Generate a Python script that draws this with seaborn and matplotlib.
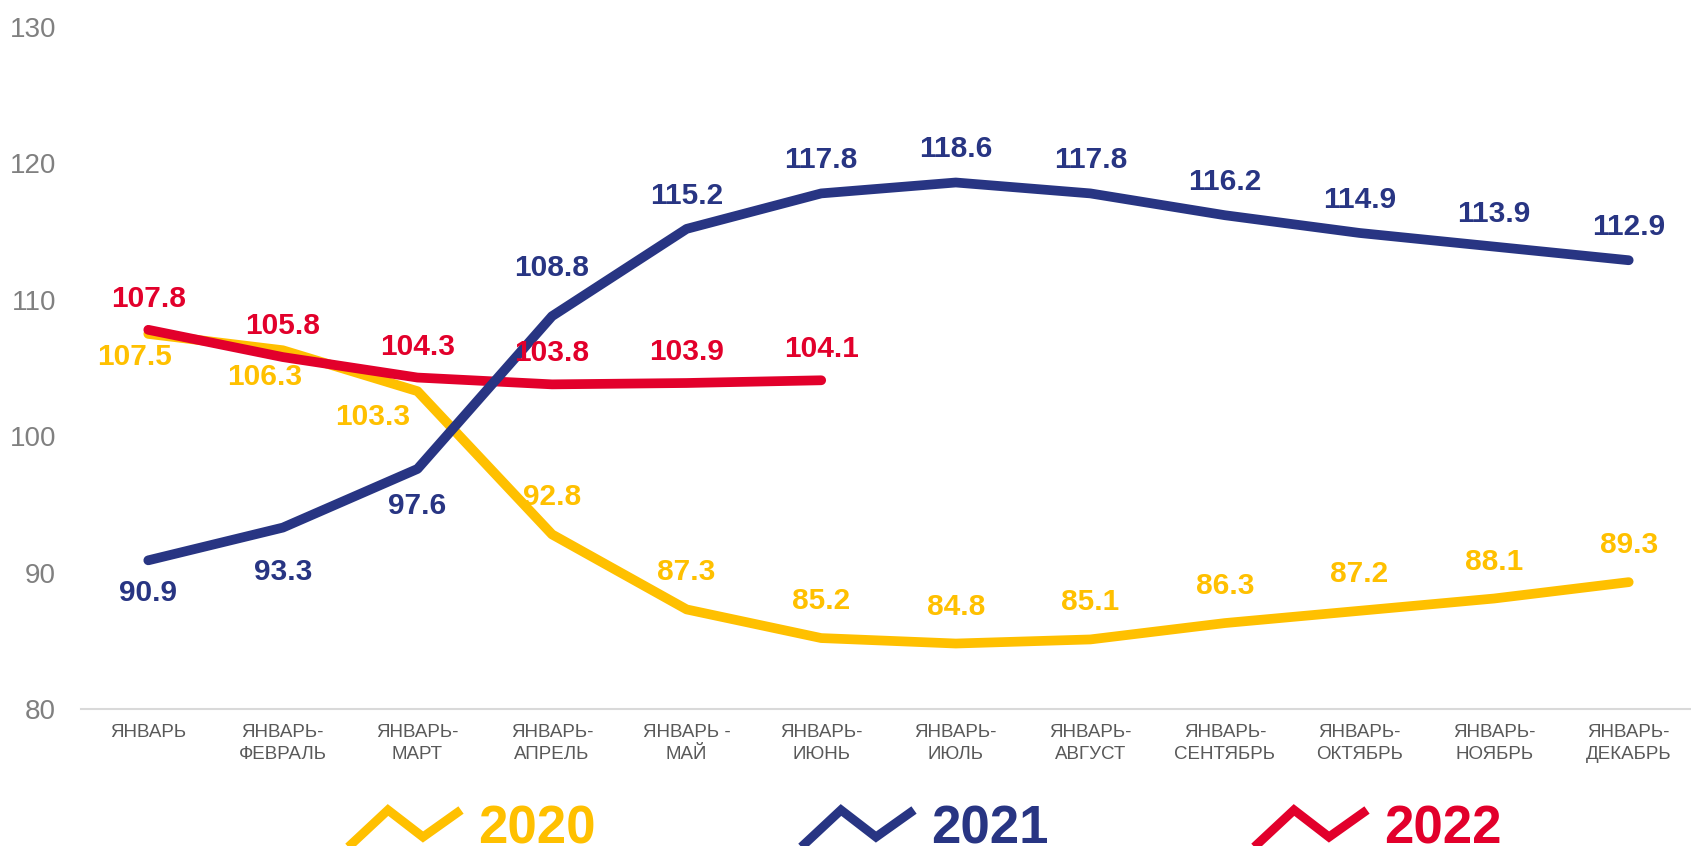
import matplotlib
matplotlib.use("Agg")
import matplotlib.pyplot as plt
import seaborn as sns
import pandas as pd
from matplotlib.lines import Line2D

# categories (cumulative periods) and values per year
periods = ["ЯНВАРЬ", "ЯНВАРЬ-\nФЕВРАЛЬ", "ЯНВАРЬ-\nМАРТ", "ЯНВАРЬ-\nАПРЕЛЬ", "ЯНВАРЬ -\nМАЙ",
           "ЯНВАРЬ-\nИЮНЬ", "ЯНВАРЬ-\nИЮЛЬ", "ЯНВАРЬ-\nАВГУСТ", "ЯНВАРЬ-\nСЕНТЯБРЬ",
           "ЯНВАРЬ-\nОКТЯБРЬ", "ЯНВАРЬ-\nНОЯБРЬ", "ЯНВАРЬ-\nДЕКАБРЬ"]
values_2020 = [107.5, 106.3, 103.3, 92.8, 87.3, 85.2, 84.8, 85.1, 86.3, 87.2, 88.1, 89.3]
values_2021 = [90.9, 93.3, 97.6, 108.8, 115.2, 117.8, 118.6, 117.8, 116.2, 114.9, 113.9, 112.9]
values_2022 = [107.8, 105.8, 104.3, 103.8, 103.9, 104.1]
y_ticks = [80, 90, 100, 110, 120, 130]

colors = {"2020": "#FFC000", "2021": "#283583", "2022": "#E2002B"}

# label offsets in pixels (dx, dy)
off_2020 = [(-14, -23), (-18, -27), (-45, -26)] + [(0, 37)] * 9
off_2021 = [(0, -33), (0, -44), (0, -37), (0, 48)] + [(0, 33)] * 8
off_2022 = [(0, 31)] * 6

rows = []
for year, vals in [("2020", values_2020), ("2022", values_2022), ("2021", values_2021)]:
    for p, v in zip(periods, vals):
        rows.append({"period": p, "year": year, "value": v})
df = pd.DataFrame(rows)
df["period"] = pd.Categorical(df["period"], categories=periods, ordered=True)

sns.set_style("white")
plt.rcParams["font.family"] = ["Liberation Sans", "DejaVu Sans"]

fig = plt.figure(figsize=(16.91, 8.46), dpi=100)
ax = fig.add_axes([81 / 1691, (846 - 709) / 846, 1615 / 1691, (709 - 27) / 846])

sns.lineplot(data=df, x="period", y="value", hue="year", hue_order=["2020", "2022", "2021"],
             palette=colors, linewidth=7, sort=False, legend=False, ax=ax,
             solid_capstyle="round", solid_joinstyle="round")

for vals, offs, year in [(values_2020, off_2020, "2020"), (values_2022, off_2022, "2022"),
                         (values_2021, off_2021, "2021")]:
    for i, (v, (dx, dy)) in enumerate(zip(vals, offs)):
        ax.annotate(f"{v:.1f}", (i, v), xytext=(dx, dy), textcoords="offset pixels",
                    ha="center", va="center", fontsize=21.5, fontweight="bold",
                    color=colors[year])

ax.set_xlim(-0.5, len(periods) - 0.5)
ax.set_ylim(80, 130)
ax.set_yticks(y_ticks)
ax.set_yticklabels([str(t) for t in y_ticks])
ax.set_xticks(range(len(periods)))
ax.set_xticklabels(periods, linespacing=1.35)
ax.set_xticks([i - 0.5 for i in range(len(periods) + 1)], minor=True)
ax.tick_params(axis="x", which="major", length=0, pad=11, labelsize=13.5, labelcolor="#595959")
ax.tick_params(axis="x", which="minor", length=6, width=1.2, color="#d9d9d9")
ax.tick_params(axis="y", length=0, pad=18, labelsize=20, labelcolor="#808080")
ax.set_xlabel("")
ax.set_ylabel("")
ax.grid(False)
for s in ["top", "right", "left"]:
    ax.spines[s].set_visible(False)
ax.spines["bottom"].set_color("#d9d9d9")
ax.spines["bottom"].set_linewidth(1.5)

# legend at bottom: zigzag icon + year
W, H = 1691, 846
icon_x = [343, 388, 423, 461]
icon_y = [852, 810, 837, 810]
for k, year in enumerate(["2020", "2021", "2022"]):
    shift = 453 * k
    fig.add_artist(Line2D([(x + shift) / W for x in icon_x], [1 - y / H for y in icon_y],
                          transform=fig.transFigure, color=colors[year], linewidth=6.5,
                          solid_joinstyle="miter", solid_capstyle="butt"))
    fig.text((478 + shift) / W, 1 - 843 / H, year, color=colors[year], fontsize=38,
             fontweight="bold", ha="left", va="baseline")

fig.savefig("out.png", dpi=100)
